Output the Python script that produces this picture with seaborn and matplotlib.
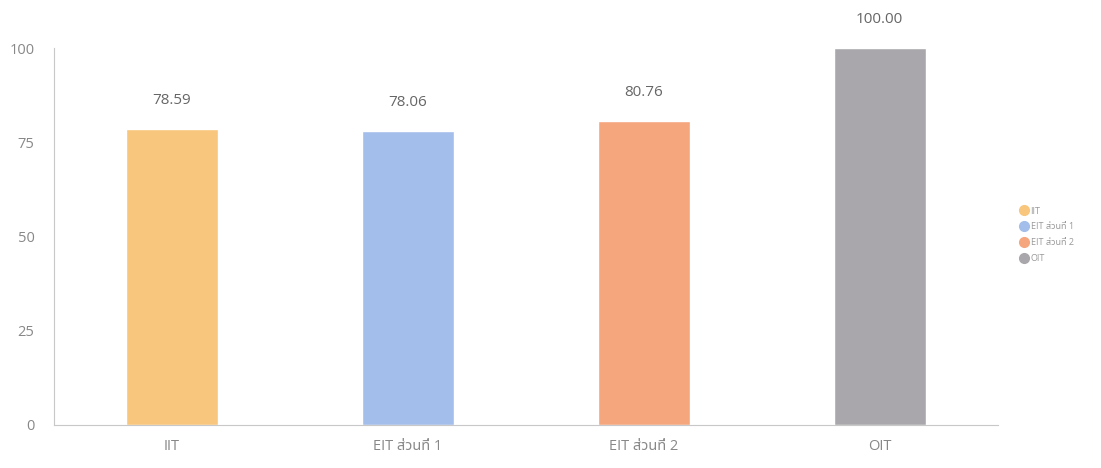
import pandas as pd
import matplotlib.pyplot as plt
import seaborn as sns
from matplotlib.lines import Line2D

# =========================
# DATA
# =========================

categories = ["IIT", "EIT ส่วนที่ 1", "EIT ส่วนที่ 2", "OIT"]
scores = [78.59, 78.06, 80.76, 100.00]
bar_colors = ["#F8C67C", "#A3BEEA", "#F6A67D", "#A9A7AB"]
y_ticks = [0, 25, 50, 75, 100]

df = pd.DataFrame({"category": categories, "score": scores})

# =========================
# STYLE
# =========================

sns.set_theme(style="white")
plt.rcParams["font.family"] = ["Open Sans", "Noto Sans Thai", "Tahoma", "Leelawadee UI",
                               "Loma", "Garuda", "DejaVu Sans"]

fig = plt.figure(figsize=(11.01, 4.68), dpi=100)
ax = fig.add_axes([0.049, 0.092, 0.857, 0.805])

sns.barplot(data=df, x="category", y="score", hue="category",
            palette=bar_colors, width=0.39, legend=False, ax=ax,
            saturation=1)

# value labels
for i, v in enumerate(scores):
    ax.text(i, v + 5.5, f"{v:.2f}", ha="center", va="bottom",
            fontsize=11, color="#666666", clip_on=False)

ax.set_ylim(0, 100)
ax.set_xlim(-0.5, 3.5)
ax.set_yticks(y_ticks)
ax.set_xlabel("")
ax.set_ylabel("")
ax.tick_params(axis="both", length=0, colors="#888888", labelsize=10.5)
ax.tick_params(axis="y", pad=14)
ax.tick_params(axis="x", pad=10)

for side in ["top", "right"]:
    ax.spines[side].set_visible(False)
for side in ["left", "bottom"]:
    ax.spines[side].set_color("#C8C8C8")
    ax.spines[side].set_linewidth(0.8)

# legend with round markers
handles = [Line2D([0], [0], marker="o", linestyle="", markersize=7,
                  markerfacecolor=c, markeredgecolor=c) for c in bar_colors]
ax.legend(handles, categories, loc="center left", bbox_to_anchor=(1.015, 0.505),
          frameon=False, fontsize=6.5, labelcolor="#999999",
          handletextpad=0.2, labelspacing=0.75, handlelength=1.0)

plt.savefig("out.png", dpi=100)
plt.close()
